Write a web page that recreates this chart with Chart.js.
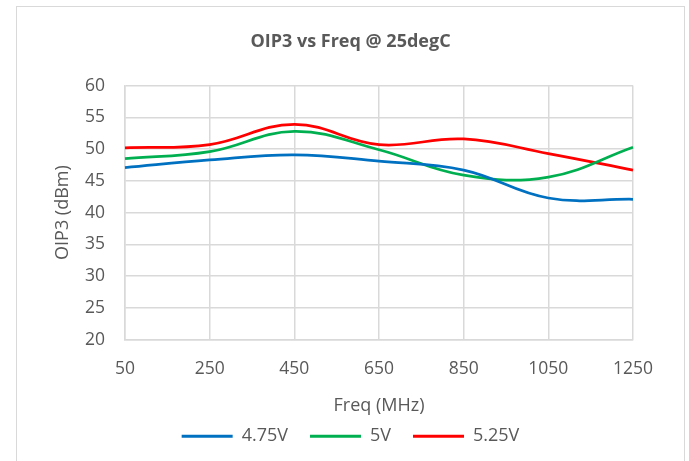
<!DOCTYPE html>
<html>
<head>
<meta charset="utf-8">
<script src="https://cdn.jsdelivr.net/npm/chart.js@4/dist/chart.umd.min.js"></script>
<style>
  html, body { margin: 0; padding: 0; background: #fff; overflow: hidden; width: 689px; height: 461px; }
  #frame { position: absolute; left: 16px; top: 6px; width: 667px; height: 470px; border: 1px solid #d9d9d9; }
  #wrap { position: absolute; left: 0; top: 0; width: 667px; height: 454px; }
</style>
</head>
<body>
<div id="frame"><div id="wrap"><canvas id="c"></canvas></div></div>
<script>
const freqLabels = ['50', '250', '450', '650', '850', '1050', '1250'];
const v475 = [47.1, 48.3, 49.1, 48.1, 46.7, 42.3, 42.1];
const v500 = [48.5, 49.6, 52.8, 49.9, 45.9, 45.6, 50.3];
const v525 = [50.2, 50.7, 53.9, 50.7, 51.6, 49.3, 46.7];
const seriesNames = ['4.75V', '5V', '5.25V'];
const seriesColors = ['#0070C0', '#00B050', '#FF0000'];
const yTicks = { min: 20, max: 60, step: 5 };

const txt = '#595959';
const grid = '#d9d9d9';
Chart.defaults.font.family = "'Open Sans', sans-serif";
Chart.defaults.color = txt;

const mk = (i, data) => ({
  label: seriesNames[i], data, yAxisID: 'y',
  borderColor: seriesColors[i], backgroundColor: seriesColors[i],
  borderWidth: 2.75, pointRadius: 0, tension: 0.4, fill: false
});

new Chart(document.getElementById('c'), {
  type: 'line',
  data: { labels: freqLabels, datasets: [mk(0, v475), mk(1, v500), mk(2, v525)] },
  options: {
    responsive: true, maintainAspectRatio: false, animation: false,
    layout: { padding: { left: 0, right: 0, top: 0, bottom: 5.7 } },
    plugins: {
      title: {
        display: true, text: 'OIP3 vs Freq @ 25degC', color: txt,
        font: { size: 18, weight: 'bold' }, padding: { top: 24, bottom: 33 }
      },
      legend: {
        position: 'bottom',
        labels: {
          boxWidth: 51, boxHeight: 3, padding: 22, font: { size: 18 }, color: txt,
          generateLabels: (chart) => chart.data.datasets.map((d, i) => ({
            text: d.label, fillStyle: d.borderColor, strokeStyle: d.borderColor,
            lineWidth: 0, datasetIndex: i, hidden: false, fontColor: txt
          }))
        }
      },
      tooltip: { enabled: false }
    },
    scales: {
      x: {
        type: 'category', offset: false,
        grid: { color: grid, lineWidth: 1.5, drawTicks: false },
        border: { color: grid, width: 1.5 },
        ticks: { padding: 18.5, font: { size: 17.5 }, color: txt, maxRotation: 0, autoSkip: false },
        title: { display: true, text: 'Freq (MHz)', font: { size: 18 }, color: txt, padding: { top: 0, bottom: -11.6 } },
        afterFit: (s) => { s.height = 65.7; }
      },
      y: {
        min: yTicks.min, max: yTicks.max,
        grid: { color: grid, lineWidth: 1.5, drawTicks: false },
        border: { color: grid, width: 1.5 },
        ticks: { stepSize: yTicks.step, padding: 20, font: { size: 17.5 }, color: txt },
        title: { display: true, text: 'OIP3 (dBm)', font: { size: 18 }, color: txt, padding: { top: 35, bottom: 0 } },
        afterFit: (s) => { s.width = 108; }
      },
      yR: {
        type: 'linear', position: 'right', min: 0, max: 1,
        grid: { display: false, drawTicks: false }, border: { display: false },
        ticks: { display: false },
        afterFit: (s) => { s.width = 51; }
      }
    }
  }
});
</script>
</body>
</html>
